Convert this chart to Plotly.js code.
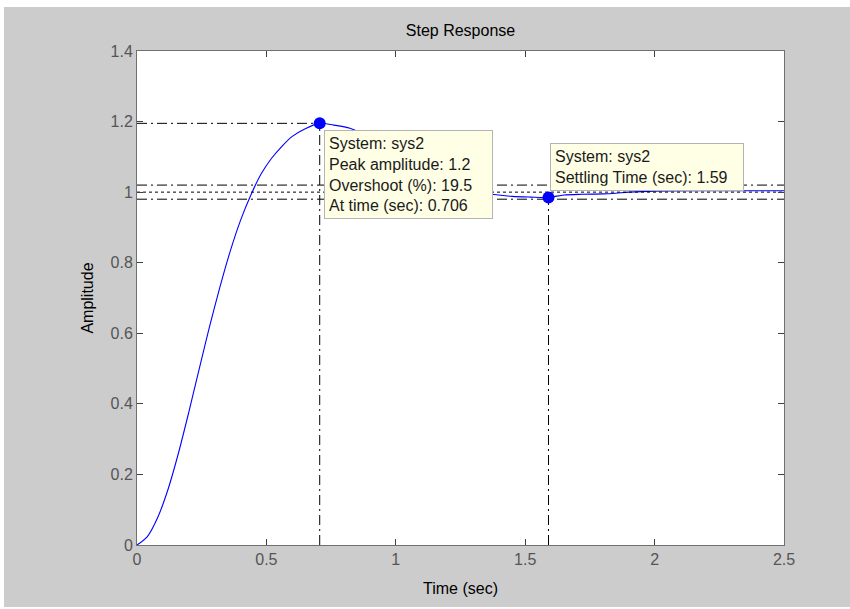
<!DOCTYPE html>
<html>
<head>
<meta charset="utf-8">
<script src="https://cdn.plot.ly/plotly-3.0.1.min.js"></script>
<style>
  html, body { margin: 0; padding: 0; background: #ffffff; width: 850px; height: 609px; overflow: hidden; }
  #chart { position: absolute; left: 4px; top: 7px; width: 846px; height: 600px; }
</style>
</head>
<body>
<div id="chart"></div>
<script>
// ---- data ----
const timeSec = [0, 0.04, 0.08, 0.12, 0.16, 0.2, 0.24, 0.28, 0.32, 0.36, 0.4, 0.44, 0.48, 0.52, 0.56, 0.6, 0.65, 0.706, 0.76, 0.823, 0.9, 1.0, 1.1, 1.2, 1.3, 1.371, 1.45, 1.52, 1.59, 1.65, 1.72, 1.8, 1.85, 1.9, 2.0, 2.2, 2.5];
const amplitude = [0, 0.024, 0.078, 0.158, 0.26, 0.376, 0.498, 0.618, 0.73, 0.832, 0.92, 0.992, 1.052, 1.096, 1.13, 1.158, 1.18, 1.195, 1.19, 1.181, 1.155, 1.11, 1.065, 1.027, 1.003, 0.994, 0.988, 0.986, 0.985, 0.992, 0.994, 0.995, 0.997, 1.0, 1.003, 1.004, 1.004];

const peakTime = 0.706;
const peakAmp = 1.195;
const settleTime = 1.59;
const settleAmp = 0.985;
const finalValue = 1.0;
const bandUpper = 1.02;
const bandLower = 0.98;

const xTickVals = [0, 0.5, 1, 1.5, 2, 2.5];
const xTickText = ["0", "0.5", "1", "1.5", "2", "2.5"];
const yTickVals = [0, 0.2, 0.4, 0.6, 0.8, 1.0, 1.2, 1.4];
const yTickText = ["0", "0.2", "0.4", "0.6", "0.8", "1", "1.2", "1.4"];
const xRange = [0, 2.5];
const yRange = [0, 1.4];

const peakTipLines = ["System: sys2", "Peak amplitude: 1.2", "Overshoot (%): 19.5", "At time (sec): 0.706"];
const settleTipLines = ["System: sys2", "Settling Time (sec): 1.59"];

// ---- styling ----
const FONT = "Liberation Sans, Arial, Helvetica, sans-serif";
const dashDot = "10px,4px,2px,4px";
const dotted = "3px,3px";
const refLine = (dash) => ({ color: "#000000", width: 1, dash: dash });

const traces = [
  { x: [xRange[0], xRange[1]], y: [bandUpper, bandUpper], mode: "lines", line: refLine(dashDot), hoverinfo: "skip" },
  { x: [xRange[0], xRange[1]], y: [bandLower, bandLower], mode: "lines", line: refLine(dashDot), hoverinfo: "skip" },
  { x: [xRange[0], peakTime], y: [peakAmp, peakAmp], mode: "lines", line: refLine(dashDot), hoverinfo: "skip" },
  { x: [peakTime, peakTime], y: [yRange[0], peakAmp], mode: "lines", line: refLine(dashDot), hoverinfo: "skip" },
  { x: [settleTime, settleTime], y: [yRange[0], settleAmp], mode: "lines", line: refLine(dashDot), hoverinfo: "skip" },
  { x: timeSec, y: amplitude, mode: "lines", line: { color: "#0000ff", width: 1.1, shape: "spline", smoothing: 0.8 } },
  { x: [xRange[0], xRange[1]], y: [finalValue, finalValue], mode: "lines", line: refLine(dotted), hoverinfo: "skip" },
  { x: [peakTime, settleTime], y: [peakAmp, settleAmp], mode: "markers", marker: { color: "#0000ff", size: 12 } }
];

const axisCommon = {
  showgrid: false,
  zeroline: false,
  showline: true,
  linecolor: "#707070",
  linewidth: 1,
  mirror: "ticks",
  ticks: "inside",
  ticklen: 6,
  tickcolor: "#404040",
  tickwidth: 1,
  tickfont: { family: FONT, size: 16, color: "#555555" },
  fixedrange: true
};

const tipCommon = {
  xref: "x", yref: "y",
  xanchor: "left", yanchor: "top",
  align: "left",
  showarrow: false,
  bgcolor: "#ffffe6",
  bordercolor: "#b4b4b4",
  borderwidth: 1,
  borderpad: 4,
  font: { family: FONT, size: 16, color: "#1a1a1a" }
};

const layout = {
  width: 846,
  height: 600,
  paper_bgcolor: "#cccccc",
  plot_bgcolor: "#ffffff",
  margin: { l: 133, r: 66, t: 44, b: 62 },
  showlegend: false,
  title: {
    text: "Step Response",
    font: { family: FONT, size: 16, color: "#000000" },
    xref: "paper", x: 0.5, xanchor: "center",
    yref: "container", y: 1 - 23 / 600, yanchor: "middle"
  },
  xaxis: Object.assign({}, axisCommon, {
    range: xRange,
    tickmode: "array", tickvals: xTickVals, ticktext: xTickText,
    title: { text: "Time (sec)", font: { family: FONT, size: 16, color: "#000000" }, standoff: 15 }
  }),
  yaxis: Object.assign({}, axisCommon, {
    range: yRange,
    tickmode: "array", tickvals: yTickVals, ticktext: yTickText,
    title: { text: "Amplitude", font: { family: FONT, size: 16, color: "#000000" }, standoff: 12 }
  }),
  annotations: [
    Object.assign({}, tipCommon, { x: peakTime + 0.017, y: peakAmp - 0.019, width: 159, text: peakTipLines.join("<br>") }),
    Object.assign({}, tipCommon, { x: settleTime + 0.006, y: 1.138, width: 184, text: settleTipLines.join("<br>") })
  ]
};

Plotly.newPlot("chart", traces, layout, { staticPlot: true, displayModeBar: false });
</script>
</body>
</html>
